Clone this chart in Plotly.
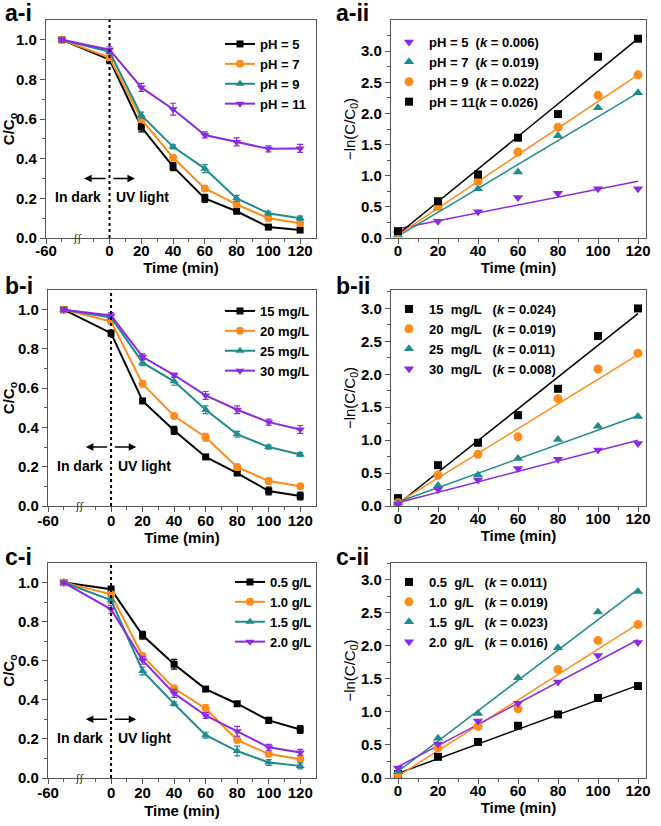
import plotly.graph_objects as go

W, H = 661, 826
FONT = "Liberation Sans, Arial, Helvetica, sans-serif"
C_BLACK, C_ORANGE, C_TEAL, C_PURPLE = "#000000", "#FF8C1A", "#1F8C8C", "#8A2BE2"
AXCOL = "#555555"

# ---------------- shared axes data ----------------
t_left = [-30, 0, 20, 40, 60, 80, 100, 120]          # first point = dark adsorption (broken axis)
left_xtick_vals = [-40, 0, 20, 40, 60, 80, 100, 120]
left_xtick_text = ["-60", "0", "20", "40", "60", "80", "100", "120"]
left_xminor = [-30, -10, 10, 30, 50, 70, 90, 110]
t_right = [0, 20, 40, 60, 80, 100, 120]
t_fit = [0, 120]

# ---------------- a-i : pH ----------------
a1_names = ["pH = 5", "pH = 7", "pH = 9", "pH = 11"]
a1_pH5 = [1.0, 0.90, 0.56, 0.36, 0.20, 0.135, 0.055, 0.04]
a1_pH7 = [1.0, 0.91, 0.60, 0.405, 0.25, 0.17, 0.10, 0.075]
a1_pH9 = [1.0, 0.94, 0.62, 0.46, 0.35, 0.20, 0.125, 0.10]
a1_pH11 = [1.0, 0.95, 0.76, 0.65, 0.52, 0.485, 0.45, 0.452]
a1_err5 = [0.0, 0.02, 0.025, 0.02, 0.02, 0.01, 0.01, 0.01]
a1_err7 = [0.0, 0.015, 0.015, 0.015, 0.015, 0.01, 0.01, 0.01]
a1_err9 = [0.0, 0.01, 0.015, 0.01, 0.02, 0.015, 0.01, 0.01]
a1_err11 = [0.01, 0.015, 0.02, 0.03, 0.015, 0.02, 0.015, 0.02]

# ---------------- a-ii : pH kinetics ----------------
a2_names = ["pH = 5\u00a0\u00a0(<i>k</i> = 0.006)", "pH = 7\u00a0\u00a0(<i>k</i> = 0.019)",
            "pH = 9\u00a0\u00a0(<i>k</i> = 0.022)", "pH = 11(<i>k</i> = 0.026)"]
a2_purple = [0.08, 0.27, 0.42, 0.65, 0.72, 0.79, 0.79]
a2_teal = [0.05, 0.48, 0.79, 1.06, 1.64, 2.09, 2.33]
a2_orange = [0.09, 0.51, 0.91, 1.38, 1.78, 2.29, 2.62]
a2_black = [0.11, 0.59, 1.02, 1.61, 1.99, 2.91, 3.20]
a2_fit_purple = [0.15, 0.91]
a2_fit_teal = [0.03, 2.33]
a2_fit_orange = [0.05, 2.62]
a2_fit_black = [0.06, 3.20]

# ---------------- b-i : dye concentration ----------------
b1_names = ["15 mg/L", "20 mg/L", "25 mg/L", "30 mg/L"]
b1_15 = [1.0, 0.88, 0.535, 0.385, 0.25, 0.168, 0.076, 0.051]
b1_20 = [1.0, 0.94, 0.622, 0.458, 0.35, 0.198, 0.127, 0.10]
b1_25 = [1.0, 0.96, 0.73, 0.635, 0.49, 0.365, 0.30, 0.262]
b1_30 = [1.0, 0.97, 0.76, 0.667, 0.563, 0.49, 0.427, 0.39]
b1_err15 = [0.0, 0.015, 0.01, 0.02, 0.01, 0.01, 0.02, 0.02]
b1_err20 = [0.0, 0.01, 0.015, 0.01, 0.02, 0.015, 0.015, 0.01]
b1_err25 = [0.0, 0.01, 0.015, 0.02, 0.02, 0.015, 0.01, 0.01]
b1_err30 = [0.01, 0.015, 0.015, 0.01, 0.02, 0.02, 0.015, 0.02]

# ---------------- b-ii ----------------
b2_names = ["15\u00a0\u00a0mg/L\u00a0\u00a0\u00a0(<i>k</i> = 0.024)", "20\u00a0\u00a0mg/L\u00a0\u00a0\u00a0(<i>k</i> = 0.019)",
            "25\u00a0\u00a0mg/L\u00a0\u00a0\u00a0(<i>k</i> = 0.011)", "30\u00a0\u00a0mg/L\u00a0\u00a0\u00a0(<i>k</i> = 0.008)"]
b2_black = [0.12, 0.62, 0.96, 1.38, 1.78, 2.58, 3.00]
b2_orange = [0.05, 0.47, 0.785, 1.05, 1.63, 2.08, 2.32]
b2_teal = [0.04, 0.31, 0.47, 0.72, 1.01, 1.21, 1.36]
b2_purple = [0.03, 0.25, 0.395, 0.57, 0.71, 0.85, 0.95]
b2_fit_black = [0.03, 2.92]
b2_fit_orange = [0.05, 2.30]
b2_fit_teal = [0.06, 1.37]
b2_fit_purple = [0.05, 1.00]

# ---------------- c-i : catalyst dose ----------------
c1_names = ["0.5 g/L", "1.0 g/L", "1.5 g/L", "2.0 g/L"]
c1_05 = [1.0, 0.966, 0.73, 0.582, 0.455, 0.38, 0.295, 0.248]
c1_10 = [1.0, 0.94, 0.624, 0.459, 0.355, 0.194, 0.123, 0.096]
c1_15 = [1.0, 0.91, 0.548, 0.38, 0.219, 0.138, 0.079, 0.062]
c1_20 = [1.0, 0.863, 0.602, 0.433, 0.32, 0.239, 0.157, 0.131]
c1_err05 = [0.0, 0.015, 0.02, 0.025, 0.01, 0.01, 0.015, 0.02]
c1_err10 = [0.0, 0.01, 0.01, 0.01, 0.02, 0.015, 0.01, 0.01]
c1_err15 = [0.0, 0.015, 0.02, 0.01, 0.015, 0.025, 0.015, 0.015]
c1_err20 = [0.0, 0.02, 0.02, 0.02, 0.015, 0.025, 0.015, 0.015]

# ---------------- c-ii ----------------
c2_names = ["0.5\u00a0\u00a0g/L\u00a0\u00a0\u00a0(<i>k</i> = 0.011)", "1.0\u00a0\u00a0g/L\u00a0\u00a0\u00a0(<i>k</i> = 0.019)",
            "1.5\u00a0\u00a0g/L\u00a0\u00a0\u00a0(<i>k</i> = 0.023)", "2.0\u00a0\u00a0g/L\u00a0\u00a0\u00a0(<i>k</i> = 0.016)"]
c2_black = [0.06, 0.32, 0.545, 0.79, 0.96, 1.21, 1.39]
c2_orange = [0.05, 0.455, 0.78, 1.045, 1.64, 2.08, 2.32]
c2_teal = [0.10, 0.60, 0.975, 1.515, 1.97, 2.51, 2.82]
c2_purple = [0.15, 0.515, 0.86, 1.13, 1.45, 1.85, 2.05]
c2_fit_black = [0.07, 1.40]
c2_fit_orange = [0.03, 2.33]
c2_fit_teal = [0.10, 2.85]
c2_fit_purple = [0.17, 2.09]

panel_labels = ["a-i", "a-ii", "b-i", "b-ii", "c-i", "c-ii"]

# ---------------- layout geometry (pixels) ----------------
left_x = [(46, 316), (48, 316), (48, 316)]
right_x = (391, 646)
rows_y = [(20, 238), (290, 506), (563, 778)]


def px_x(a, b):
    return [a / W, b / W]


def px_y(top, bot):
    return [1 - bot / H, 1 - top / H]


fig = go.Figure()

SYM = {C_BLACK: "square", C_ORANGE: "circle", C_TEAL: "triangle-up", C_PURPLE: "triangle-down"}


def add_left(ax, series, names, errs, legend):
    cols = [C_BLACK, C_ORANGE, C_TEAL, C_PURPLE]
    for ys, nm, er, c in zip(series, names, errs, cols):
        fig.add_trace(go.Scatter(
            x=t_left, y=ys, name=nm, mode="lines+markers",
            line=dict(color=c, width=2),
            marker=dict(symbol=SYM[c], size=8 if c != C_BLACK else 7, color=c),
            error_y=dict(type="data", array=er, color=c, thickness=1.2, width=3),
            xaxis="x" + ax, yaxis="y" + ax, legend=legend))


def add_right(ax, series, fits, names, cols, legend):
    for ys, ft, nm, c in zip(series, fits, names, cols):
        fig.add_trace(go.Scatter(
            x=t_fit, y=ft, mode="lines", line=dict(color=c, width=1.5),
            showlegend=False, hoverinfo="skip", xaxis="x" + ax, yaxis="y" + ax))
    for ys, ft, nm, c in zip(series, fits, names, cols):
        fig.add_trace(go.Scatter(
            x=t_right, y=ys, name=nm, mode="markers",
            marker=dict(symbol=SYM[c], size=9 if c != C_BLACK else 8, color=c),
            xaxis="x" + ax, yaxis="y" + ax, legend=legend))


add_left("", [a1_pH5, a1_pH7, a1_pH9, a1_pH11], a1_names, [a1_err5, a1_err7, a1_err9, a1_err11], "legend")
add_right("2", [a2_purple, a2_teal, a2_orange, a2_black],
          [a2_fit_purple, a2_fit_teal, a2_fit_orange, a2_fit_black], a2_names,
          [C_PURPLE, C_TEAL, C_ORANGE, C_BLACK], "legend2")
add_left("3", [b1_15, b1_20, b1_25, b1_30], b1_names, [b1_err15, b1_err20, b1_err25, b1_err30], "legend3")
add_right("4", [b2_black, b2_orange, b2_teal, b2_purple],
          [b2_fit_black, b2_fit_orange, b2_fit_teal, b2_fit_purple], b2_names,
          [C_BLACK, C_ORANGE, C_TEAL, C_PURPLE], "legend4")
add_left("5", [c1_05, c1_10, c1_15, c1_20], c1_names, [c1_err05, c1_err10, c1_err15, c1_err20], "legend5")
add_right("6", [c2_black, c2_orange, c2_teal, c2_purple],
          [c2_fit_black, c2_fit_orange, c2_fit_teal, c2_fit_purple], c2_names,
          [C_BLACK, C_ORANGE, C_TEAL, C_PURPLE], "legend6")

TICKFONT = dict(family=FONT, size=15, color="black", weight="bold")
TITLEFONT = dict(family=FONT, size=15, color="black", weight="bold")

common = dict(showline=True, linecolor=AXCOL, linewidth=1.3, mirror=True,
              ticks="outside", ticklen=5, tickwidth=1.2, tickcolor=AXCOL,
              showgrid=False, zeroline=False, tickfont=TICKFONT, automargin=False)

layout = dict(width=W, height=H, margin=dict(l=0, r=0, t=0, b=0, autoexpand=False),
              paper_bgcolor="white", plot_bgcolor="white", showlegend=True,
              font=dict(family=FONT, color="black"))

for i in range(3):
    xa = "xaxis" if i == 0 else "xaxis%d" % (2 * i + 1)
    ya = "yaxis" if i == 0 else "yaxis%d" % (2 * i + 1)
    xr = "xaxis%d" % (2 * i + 2)
    yr = "yaxis%d" % (2 * i + 2)
    idl = "" if i == 0 else str(2 * i + 1)
    idr = str(2 * i + 2)
    top, bot = rows_y[i]
    tls = [-6, -4, -4][i]
    tst = [2, 4, 5][i]
    layout[xa] = dict(common, domain=px_x(*left_x[i]), anchor="y" + idl, range=[-40, 130],
                      tickmode="array", tickvals=left_xtick_vals, ticktext=left_xtick_text,
                      ticklabelstandoff=tls,
                      minor=dict(tickmode="array", tickvals=left_xminor, ticklen=3,
                                 tickcolor=AXCOL, ticks="outside"),
                      title=dict(text="Time (min)", font=TITLEFONT, standoff=tst))
    layout[ya] = dict(common, domain=px_y(top, bot), anchor="x" + idl, range=[0, 1.1],
                      tickmode="array", tickvals=[0, 0.2, 0.4, 0.6, 0.8, 1.0],
                      ticktext=["0.0", "0.2", "0.4", "0.6", "0.8", "1.0"],
                      minor=dict(tickmode="array", tickvals=[0.1, 0.3, 0.5, 0.7, 0.9], ticklen=3,
                                 tickcolor=AXCOL, ticks="outside"),
                      title=dict(text="C/C<sub>o</sub>", font=TITLEFONT, standoff=4))
    yr_top = [3.5, 3.28, 3.25][i]
    layout[xr] = dict(common, domain=px_x(*right_x), anchor="y" + idr, range=[-3.5, 124],
                      tickmode="array", tickvals=t_right, ticklabelstandoff=-6,
                      minor=dict(tickmode="array", tickvals=[10, 30, 50, 70, 90, 110], ticklen=3,
                                 tickcolor=AXCOL, ticks="outside"),
                      title=dict(text="Time (min)", font=TITLEFONT, standoff=4))
    layout[yr] = dict(common, domain=px_y(top, bot), anchor="x" + idr, range=[0, yr_top],
                      tickmode="array", tickvals=[0, 0.5, 1.0, 1.5, 2.0, 2.5, 3.0],
                      ticktext=["0.0", "0.5", "1.0", "1.5", "2.0", "2.5", "3.0"],
                      minor=dict(tickmode="array", tickvals=[0.25, 0.75, 1.25, 1.75, 2.25, 2.75, 3.25],
                                 ticklen=3, tickcolor=AXCOL, ticks="outside"),
                      title=dict(text="\u2212ln(C/C<sub>0</sub>)",
                                 font=dict(family=FONT, size=15, color="black"), standoff=1))

LEGFONT = dict(family=FONT, size=13, color="black", weight="bold")
leg_pos = {"legend": (220, 29), "legend2": (389, 27), "legend3": (220, 296),
           "legend4": (389, 294), "legend5": (230, 567), "legend6": (389, 567)}
for k, (lx, ly) in leg_pos.items():
    layout[k] = dict(x=lx / W, y=1 - ly / H, xanchor="left", yanchor="top",
                     bgcolor="rgba(0,0,0,0)", borderwidth=0, font=LEGFONT,
                     tracegroupgap=0, itemwidth=30)

fig.update_layout(**layout)

# panel labels
lab_pos = [(3, 13), (334, 13), (3, 286), (334, 286), (3, 557), (334, 557)]
for lab, (lx, ly) in zip(panel_labels, lab_pos):
    fig.add_annotation(x=lx / W, y=1 - ly / H, xref="paper", yref="paper", text=lab,
                       showarrow=False, xanchor="left", yanchor="middle",
                       font=dict(family=FONT, size=23, color="black", weight="bold"))

# left panel decorations: dark/UV divider, arrows, labels, axis break
for idl in ["", "3", "5"]:
    xr_, yr_ = "x" + idl, "y" + idl
    fig.add_shape(type="line", x0=0, x1=0, y0=0, y1=1, xref=xr_, yref=yr_ + " domain",
                  line=dict(color="black", width=2, dash="dot"))
    for tail, head in [(-1.5, -16), (1.5, 16)]:
        fig.add_annotation(x=head, y=0.30, ax=tail, ay=0.30, xref=xr_, yref=yr_,
                           axref=xr_, ayref=yr_, text="", showarrow=True,
                           arrowhead=2, arrowsize=1, arrowwidth=1.5, arrowcolor="black")
    fig.add_annotation(x=-20, y=0.205, xref=xr_, yref=yr_, text="In dark", showarrow=False,
                       font=dict(family=FONT, size=14, color="black", weight="bold"))
    fig.add_annotation(x=21, y=0.205, xref=xr_, yref=yr_, text="UV light", showarrow=False,
                       font=dict(family=FONT, size=14, color="black", weight="bold"))
    fig.add_annotation(x=-20, y=0, xref=xr_, yref=yr_, text="\u0283\u0283", showarrow=False,
                       font=dict(family="DejaVu Sans", size=11, color="#333333"))

fig.write_html("out.html", config={"displayModeBar": False},
               post_script="document.body.style.margin='0px';")
